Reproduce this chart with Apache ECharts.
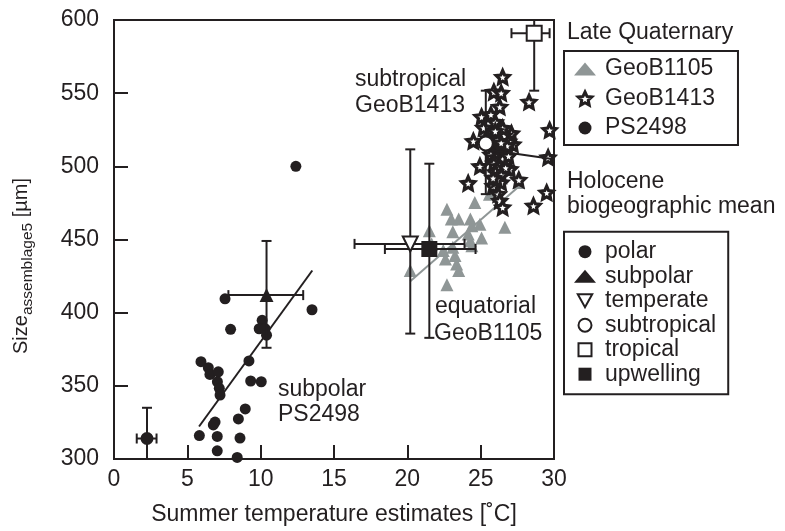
<!DOCTYPE html>
<html>
<head>
<meta charset="utf-8">
<script src="https://cdn.jsdelivr.net/npm/echarts@6/dist/echarts.min.js"></script>
<style>
html, body { margin: 0; padding: 0; background: #fff; }
#main { width: 785px; height: 531px; }
</style>
</head>
<body>
<div id="main"></div>
<script>
// Late Quaternary samples [temperature, size]
const geoB1105 = [
  [22.7, 470.7], [24.6, 475.3], [23.0, 464], [23.5, 464], [24.3, 464], [24.95, 460.5],
  [24.4, 459.4], [23.1, 455.3], [21.5, 456], [26.65, 458.3], [24.15, 453.7], [25.06, 451],
  [24.3, 449.2], [24.4, 445.8], [22.45, 442.4], [23.25, 439], [22.6, 436.7], [23.36, 433.3],
  [20.2, 428.8], [23.5, 428.8], [22.7, 419], [23.1, 444.7], [27.6, 488.9], [25.6, 481], [21.66, 447]
]
const geoB1413 = [
  [26.5, 561], [25.9, 550.8], [26.4, 550.1], [28.3, 544], [26.3, 540.6], [25.06, 533.8],
  [25.7, 535.4], [26.0, 530.1], [25.2, 526.3], [29.7, 524.7], [24.5, 517.2], [27.1, 522.4],
  [27.2, 515], [29.6, 506], [24.95, 500], [27.0, 498], [27.6, 490.7], [24.15, 488.4],
  [25.85, 486.6], [26.4, 488.9], [26.2, 481], [29.5, 482], [26.3, 476.4], [28.6, 473], [26.5, 471.9],
  [25.8, 520], [26.2, 518], [26.6, 521], [26.9, 517], [25.9, 513], [26.3, 512], [26.7, 510],
  [25.7, 508], [26.1, 506], [26.5, 505], [26.9, 507], [25.9, 502], [26.3, 500], [26.7, 499],
  [26.0, 496], [26.4, 494], [26.1, 491], [25.6, 515], [26.8, 514], [26.4, 516], [26.5, 526],
  [26.0, 524], [25.5, 519], [25.85, 492]
]
const ps2498 = [
  [7.57, 409.5], [13.5, 402], [7.95, 388.6], [10.1, 394.8], [9.9, 389], [10.3, 389], [10.4, 384.6],
  [5.93, 366.5], [6.43, 362.4], [6.54, 357.8], [7.11, 359.6], [7.05, 352.8], [7.18, 348.3],
  [7.23, 343.7], [9.2, 367], [9.32, 353.3], [10.04, 352.8], [8.95, 334.2], [8.48, 327.4],
  [6.89, 325.2], [6.77, 323.3], [5.82, 316], [7.04, 315.4], [8.59, 314.3], [7.04, 305.6],
  [8.4, 301.1], [12.4, 500]
]

// regression lines (end points)
const fitPS2498 = [[5.8, 322.2], [13.52, 428.8]]
const fitGeoB1105 = [[20.2, 421.5], [27.7, 487]]
const fitGeoB1413 = [[25.5, 511.3], [30, 504.8]]

// Holocene biogeographic means: [temp, size], temp range, size range
const meanNames = ['polar', 'subpolar', 'temperate', 'subtropical', 'tropical', 'upwelling']
const meanValues = [[2.25, 314], [10.4, 412], [20.2, 447], [25.35, 515.6], [28.65, 591], [21.5, 443.5]]
const meanTempRange = [[1.55, 2.9], [7.8, 12.9], [16.4, 23.9], [25.35, 25.35], [27.1, 29.7], [18.47, 24.65]]
const meanSizeRange = [[300, 335], [376, 449], [385.7, 511.6], [481, 551.7], [551.7, 600], [382.8, 501.8]]

const xTicks = { min: 0, max: 30, step: 5 }
const yTicks = { min: 300, max: 600, step: 50 }

const FONT = "'Liberation Sans', Arial, sans-serif"
const INK = '#231f20'
const GREY = '#8f9696'
const STAR = 'path://M50,0L64.1,30.6L97.6,34.5L72.8,57.4L79.4,90.5L50,74L20.6,90.5L27.2,57.4L2.4,34.5L35.9,30.6Z'
const DOWN_TRI = 'path://M0,0L10,0L5,9Z'
const SQUARE = 'path://M0,0L10,0L10,10L0,10Z'

const meanSymbols = {
  polar: { symbol: 'circle', size: 13, itemStyle: { color: INK, opacity: 1 } },
  subpolar: { symbol: 'triangle', size: 14, itemStyle: { color: INK, opacity: 1 } },
  temperate: { symbol: DOWN_TRI, size: 15, itemStyle: { color: '#fff', borderColor: INK, borderWidth: 2, opacity: 1 } },
  subtropical: { symbol: 'circle', size: 14, itemStyle: { color: '#fff', borderColor: INK, borderWidth: 2, opacity: 1 } },
  tropical: { symbol: SQUARE, size: 15, itemStyle: { color: '#fff', borderColor: INK, borderWidth: 2, opacity: 1 } },
  upwelling: { symbol: SQUARE, size: 16, itemStyle: { color: INK, opacity: 1 } }
}

const errorData = meanValues.map((v, i) => [v[0], v[1], meanTempRange[i][0], meanTempRange[i][1], meanSizeRange[i][0], meanSizeRange[i][1]])

function renderErrorBar(params, api) {
  const x = api.value(0), y = api.value(1)
  const xlo = api.value(2), xhi = api.value(3), ylo = api.value(4), yhi = api.value(5)
  const cap = 5
  const st = { stroke: INK, lineWidth: 2 }
  const kids = []
  if (xhi > xlo) {
    const l = api.coord([xlo, y]), r = api.coord([xhi, y])
    kids.push({ type: 'line', shape: { x1: l[0], y1: l[1], x2: r[0], y2: r[1] }, style: st })
    kids.push({ type: 'line', shape: { x1: l[0], y1: l[1] - cap, x2: l[0], y2: l[1] + cap }, style: st })
    kids.push({ type: 'line', shape: { x1: r[0], y1: r[1] - cap, x2: r[0], y2: r[1] + cap }, style: st })
  }
  if (yhi > ylo) {
    const b = api.coord([x, ylo]), t = api.coord([x, yhi])
    kids.push({ type: 'line', shape: { x1: b[0], y1: b[1], x2: t[0], y2: t[1] }, style: st })
    kids.push({ type: 'line', shape: { x1: b[0] - cap, y1: b[1], x2: b[0] + cap, y2: b[1] }, style: st })
    kids.push({ type: 'line', shape: { x1: t[0] - cap, y1: t[1], x2: t[0] + cap, y2: t[1] }, style: st })
  }
  return { type: 'group', children: kids }
}

function txt(text, x, y, size) {
  return {
    type: 'text', x: x, y: y, silent: true,
    style: { text: text, fill: INK, font: (size || 23) + 'px ' + FONT, align: 'left', verticalAlign: 'middle' }
  }
}

const chart = echarts.init(document.getElementById('main'))

const option = {
  animation: false,
  backgroundColor: '#fff',
  textStyle: { fontFamily: FONT },
  grid: { left: 114, right: 231, top: 20, bottom: 70, show: true, borderColor: INK, borderWidth: 2 },
  xAxis: {
    type: 'value', min: xTicks.min, max: xTicks.max, interval: xTicks.step,
    name: 'Summer temperature estimates [˚C]', nameLocation: 'middle', nameGap: 44,
    nameTextStyle: { fontSize: 23, color: INK, fontFamily: FONT },
    axisLine: { lineStyle: { color: INK, width: 2 } },
    axisTick: { inside: true, length: 14, lineStyle: { color: INK, width: 2 } },
    axisLabel: { fontSize: 23, color: INK, margin: 9, fontFamily: FONT },
    splitLine: { show: false }
  },
  yAxis: {
    type: 'value', min: yTicks.min, max: yTicks.max, interval: yTicks.step,
    axisLine: { show: true, lineStyle: { color: INK, width: 2 } },
    axisTick: { show: true, inside: true, length: 14, lineStyle: { color: INK, width: 2 } },
    axisLabel: { fontSize: 23, color: INK, margin: 15, fontFamily: FONT },
    splitLine: { show: false }
  },
  legend: [
    {
      orient: 'vertical', left: 564, top: 51, selectedMode: false,
      data: ['GeoB1105', { name: 'GeoB1413', itemStyle: { borderWidth: 3 } }, 'PS2498'],
      itemWidth: 22, itemHeight: 13, itemGap: 6.5,
      padding: [6.5, 23, 5.5, 10],
      borderColor: INK, borderWidth: 2,
      textStyle: { fontSize: 23, lineHeight: 23, color: INK, fontFamily: FONT, padding: [0, 0, 0, 4] }
    },
    {
      orient: 'vertical', left: 564, top: 231.7, selectedMode: false,
      data: meanNames,
      itemWidth: 22, itemHeight: 13, itemGap: 1.5,
      padding: [8.5, 12, 8.5, 10],
      borderColor: INK, borderWidth: 2,
      textStyle: { fontSize: 23, lineHeight: 23, color: INK, fontFamily: FONT, padding: [0, 0, 0, 4] }
    }
  ],
  graphic: [
    txt('Late Quaternary', 567, 33),
    txt('Holocene', 567, 182),
    txt('biogeographic mean', 567, 207),
    txt('subtropical', 355, 80),
    txt('GeoB1413', 355, 106),
    txt('equatorial', 435, 307),
    txt('GeoB1105', 434, 334),
    txt('subpolar', 278, 390),
    txt('PS2498', 278, 415),
    {
      type: 'text', x: 21, y: 266, rotation: Math.PI / 2, silent: true,
      style: {
        text: '{a|Size}{b|assemblage5}{a| [µm]}',
        align: 'center', verticalAlign: 'middle', fill: INK,
        rich: {
          a: { fontSize: 20, lineHeight: 30, fontFamily: FONT, fill: INK },
          b: { fontSize: 15.5, lineHeight: 16, fontFamily: FONT, fill: INK, verticalAlign: 'bottom' }
        }
      }
    }
  ],
  series: [
    {
      name: 'GeoB1105', type: 'scatter', data: geoB1105, z: 2,
      symbol: 'triangle', symbolSize: 13, itemStyle: { color: GREY, opacity: 1 }
    },
    {
      type: 'line', data: fitGeoB1105, z: 2, symbol: 'none',
      lineStyle: { color: GREY, width: 2 }, silent: true
    },
    {
      name: 'GeoB1413', type: 'scatter', data: geoB1413, z: 3,
      symbol: STAR, symbolSize: 13,
      itemStyle: { color: '#fff', borderColor: INK, borderWidth: 3.2, opacity: 1 }
    },
    {
      name: 'PS2498', type: 'scatter', data: ps2498, z: 3,
      symbol: 'circle', symbolSize: 11, itemStyle: { color: INK, opacity: 1 }
    },
    {
      type: 'line', data: fitPS2498, z: 4, symbol: 'none',
      lineStyle: { color: INK, width: 2 }, silent: true
    },
    {
      type: 'line', data: fitGeoB1413, z: 4, symbol: 'none',
      lineStyle: { color: INK, width: 2 }, silent: true
    },
    {
      type: 'custom', data: errorData, z: 5, silent: true,
      encode: { x: 0, y: 1 },
      renderItem: renderErrorBar
    }
  ].concat(meanNames.map((n, i) => ({
    name: n, type: 'scatter', z: 6,
    data: [meanValues[i]],
    symbol: meanSymbols[n].symbol,
    symbolSize: meanSymbols[n].size,
    itemStyle: meanSymbols[n].itemStyle
  })))
}

chart.setOption(option)
</script>
</body>
</html>
